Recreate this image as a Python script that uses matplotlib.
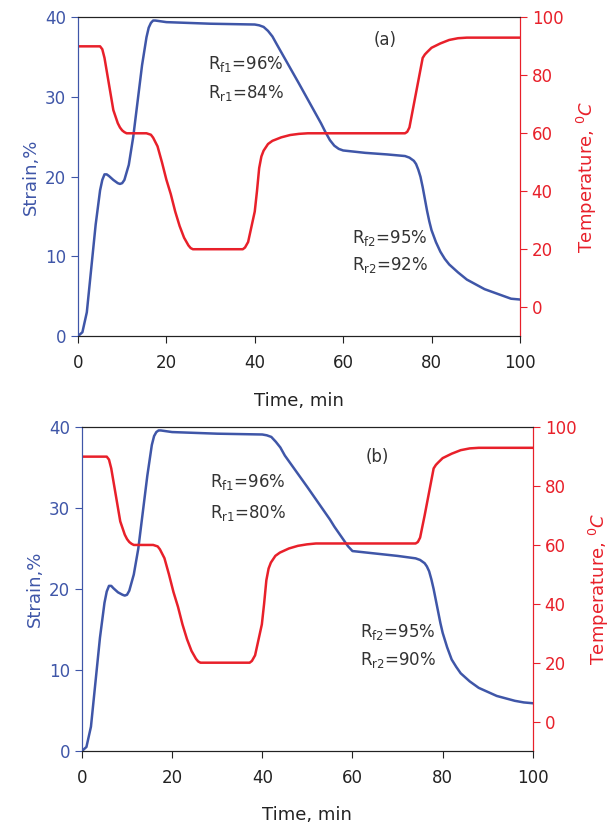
import numpy as np
import matplotlib.pyplot as plt

# Panel (a) data
t_sa = [0, 1, 2, 3, 4, 5, 5.5, 6, 6.5, 7, 8, 9, 9.5, 10, 10.5, 11.5, 12.5, 13.5, 14.5, 15.5, 16, 16.5, 17,
        17.5, 20, 30, 40, 41, 42, 43, 44, 45, 50, 55, 56, 57, 58, 59, 60, 65, 70, 74, 75, 76, 76.5, 77,
        77.5, 78, 78.5, 79, 79.5, 80, 81, 82, 83, 84, 86, 88, 92, 96, 98, 100]
strain_a = [0, 0.5, 3, 8.5, 14, 18.3, 19.6, 20.3, 20.3, 20.1, 19.6, 19.2, 19.1, 19.2, 19.6, 21.5, 25, 29.5,
            34, 37.5, 38.7, 39.3, 39.6, 39.6, 39.4, 39.2, 39.1, 39.0, 38.8, 38.3, 37.6, 36.6, 31.7, 26.7,
            25.6, 24.6, 23.9, 23.5, 23.3, 23, 22.8, 22.6, 22.4, 22, 21.6, 20.9, 20, 18.7, 17.2, 15.7, 14.4,
            13.3, 11.8, 10.6, 9.7, 9, 8, 7.1, 5.9, 5.1, 4.7, 4.6]
t_ta = [0, 5, 5.5, 6, 7, 8, 9, 9.5, 10, 10.5, 11, 15.5, 16.5, 17, 18, 19, 20, 21, 22, 23, 24, 25, 25.5, 26,
        37.3, 37.8, 38.5, 39, 40, 40.5, 41, 41.5, 42, 43, 44, 46, 48, 50, 52, 74, 74.5, 75, 76, 77, 78,
        78.5, 79, 80, 82, 84, 86, 88, 100]
temp_a = [90, 90, 89, 86, 77, 68, 63.5, 62, 61, 60.4, 60, 60, 59.5, 58.5, 55.5, 50, 44, 39, 33, 28, 24,
          21.3, 20.4, 20, 20, 20.6, 22.5, 26, 33, 40, 48, 52, 54, 56.3, 57.4, 58.6, 59.4, 59.8, 60, 60,
          60.5, 62, 70, 78, 86, 87.2, 88, 89.5, 91, 92.2, 92.8, 93, 93]

# Panel (b) data
t_sb = [0, 1, 2, 3, 4, 5, 5.5, 6, 6.5, 7, 8, 9, 9.5, 10, 10.5, 11.5, 12.5, 13.5, 14.5, 15.5, 16, 16.5, 17,
        17.5, 20, 30, 40, 41, 42, 43, 44, 45, 50, 55, 56, 57, 58, 59, 60, 65, 70, 74, 75, 76, 76.5, 77,
        77.5, 78, 78.5, 79, 79.5, 80, 81, 82, 83, 84, 86, 88, 92, 96, 98, 100]
strain_b = [0, 0.5, 3, 8.5, 14, 18.3, 19.7, 20.4, 20.4, 20.1, 19.6, 19.3, 19.2, 19.3, 19.8, 21.8, 25, 29.5,
            34, 37.8, 38.9, 39.4, 39.6, 39.6, 39.4, 39.2, 39.1, 39.0, 38.8, 38.2, 37.5, 36.5, 32.6, 28.6,
            27.7, 26.9, 26.1, 25.3, 24.7, 24.4, 24.1, 23.8, 23.6, 23.2, 22.8, 22.2, 21.2, 20, 18.6, 17.2,
            15.8, 14.6, 12.8, 11.3, 10.4, 9.6, 8.6, 7.8, 6.8, 6.2, 6, 5.9]
t_tb = [0, 5.5, 6, 6.5, 7.5, 8.5, 9.5, 10, 10.5, 11, 11.5, 15.8, 16.8, 17.3, 18.3, 19.3, 20.3, 21.3, 22.3,
        23.3, 24.3, 25.3, 25.8, 26.3, 37.2, 37.7, 38.4, 38.9, 39.9, 40.4, 40.9, 41.4, 41.9, 42.9, 43.9,
        45.9, 47.9, 49.9, 51.9, 74, 74.5, 75, 76, 77, 78, 78.5, 79, 80, 82, 84, 86, 88, 100]
temp_b = [90, 90, 89, 86, 77, 68, 63.5, 62, 61, 60.4, 60, 60, 59.5, 58.5, 55.5, 50, 44, 39, 33, 28, 24,
          21.3, 20.4, 20, 20, 20.6, 22.5, 26, 33, 40, 48, 52, 54, 56.3, 57.4, 58.8, 59.7, 60.2, 60.5, 60.5,
          61, 62.5, 70, 78, 86, 87.2, 88, 89.5, 91, 92.2, 92.8, 93, 93]

blue = '#3f56a8'
red = '#e8202a'
txt = '#333333'

fig = plt.figure(figsize=(6.16, 8.26), dpi=100)


def panel(rect, ts, strain, tt, temp, label, labpos, notes):
    ax = fig.add_axes(rect)
    ax2 = ax.twinx()
    ax.plot(ts, strain, color=blue, lw=1.8)
    ax2.plot(tt, temp, color=red, lw=1.8)
    ax.set_xlim(0, 100)
    ax.set_ylim(0, 40)
    ax2.set_ylim(-10, 100)
    ax.set_xticks([0, 20, 40, 60, 80, 100])
    ax.set_yticks([0, 10, 20, 30, 40])
    ax2.set_yticks([0, 20, 40, 60, 80, 100])
    ax.tick_params(axis='x', colors='#222222', labelsize=12, length=5, pad=8)
    ax.tick_params(axis='y', colors=blue, labelsize=12, length=5)
    ax2.tick_params(axis='y', colors=red, labelsize=12, length=5)
    for a in (ax, ax2):
        a.spines['left'].set_color(blue)
        a.spines['right'].set_color(red)
        a.spines['top'].set_color('#222222')
        a.spines['bottom'].set_color('#222222')
    ax.set_xlabel('Time, min', fontsize=13, color='#222222', labelpad=14)
    ax.set_ylabel('Strain,%', fontsize=13, color=blue, labelpad=4)
    ax2.set_ylabel('Temperature, $^{0}C$', fontsize=13, color=red, labelpad=8)
    ax.text(labpos[0], labpos[1], label, fontsize=12, color=txt, ha='center', va='center')
    for x, y, s in notes:
        ax.text(x, y, s, fontsize=12, color=txt, ha='left', va='center')


panel([0.1266, 0.593, 0.7174, 0.386], t_sa, strain_a, t_ta, temp_a, '(a)', (69.5, 37.1),
      [(29.5, 34.2, r'R$_{\mathregular{f1}}$=96%'), (29.5, 30.5, r'R$_{\mathregular{r1}}$=84%'),
       (62, 12.3, r'R$_{\mathregular{f2}}$=95%'), (62, 8.9, r'R$_{\mathregular{r2}}$=92%')])
panel([0.133, 0.0908, 0.732, 0.392], t_sb, strain_b, t_tb, temp_b, '(b)', (65.4, 36.3),
      [(28.4, 33.2, r'R$_{\mathregular{f1}}$=96%'), (28.4, 29.4, r'R$_{\mathregular{r1}}$=80%'),
       (61.6, 14.7, r'R$_{\mathregular{f2}}$=95%'), (61.6, 11.2, r'R$_{\mathregular{r2}}$=90%')])

fig.savefig('out.png', dpi=100)
